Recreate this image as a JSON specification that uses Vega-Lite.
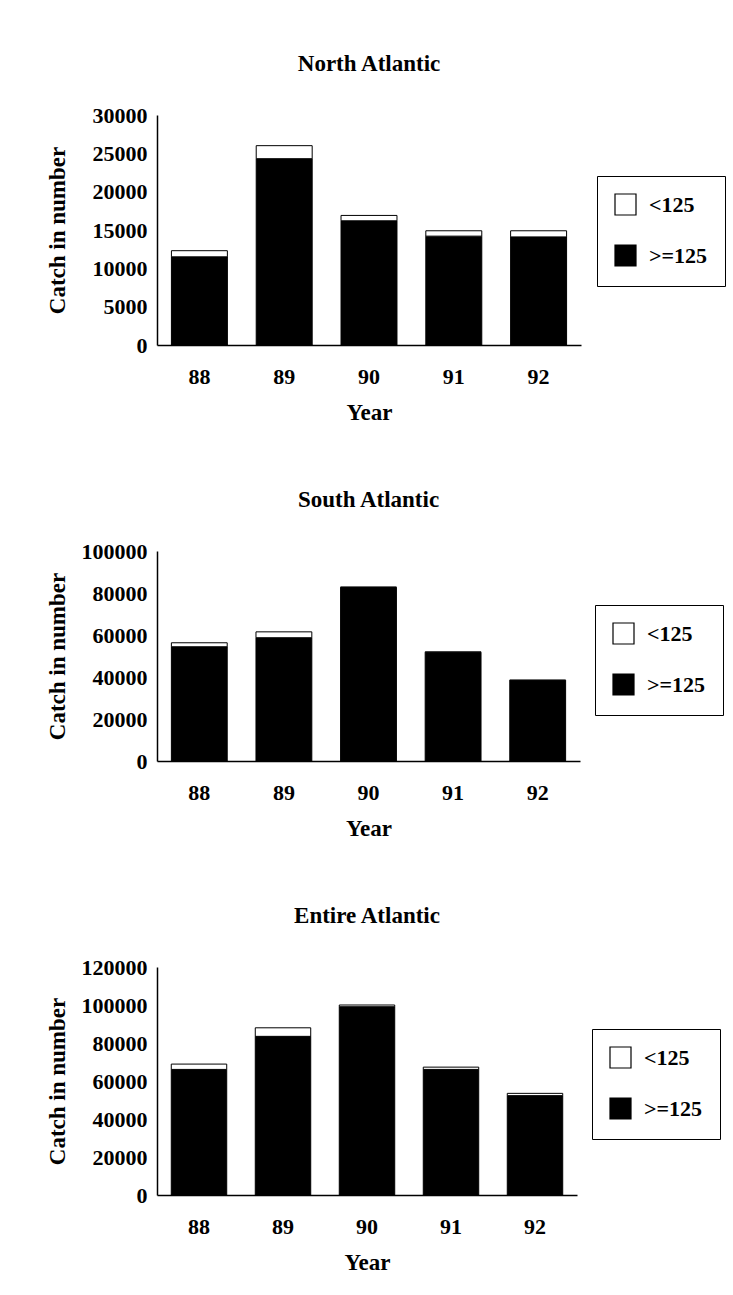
{
  "$schema": "https://vega.github.io/schema/vega-lite/v6.json",
  "padding": {"left": 46, "top": 53, "right": 5, "bottom": 5},
  "background": "white",
  "datasets": {
    "north": [
      {"year": "88", "size": ">=125", "catch": 11500},
      {"year": "88", "size": "<125", "catch": 800},
      {"year": "89", "size": ">=125", "catch": 24300},
      {"year": "89", "size": "<125", "catch": 1700},
      {"year": "90", "size": ">=125", "catch": 16200},
      {"year": "90", "size": "<125", "catch": 700},
      {"year": "91", "size": ">=125", "catch": 14200},
      {"year": "91", "size": "<125", "catch": 700},
      {"year": "92", "size": ">=125", "catch": 14100},
      {"year": "92", "size": "<125", "catch": 800}
    ],
    "south": [
      {"year": "88", "size": ">=125", "catch": 54400},
      {"year": "88", "size": "<125", "catch": 1900},
      {"year": "89", "size": ">=125", "catch": 58700},
      {"year": "89", "size": "<125", "catch": 2800},
      {"year": "90", "size": ">=125", "catch": 82600},
      {"year": "90", "size": "<125", "catch": 300},
      {"year": "91", "size": ">=125", "catch": 51700},
      {"year": "91", "size": "<125", "catch": 300},
      {"year": "92", "size": ">=125", "catch": 38300},
      {"year": "92", "size": "<125", "catch": 300}
    ],
    "entire": [
      {"year": "88", "size": ">=125", "catch": 66100},
      {"year": "88", "size": "<125", "catch": 2800},
      {"year": "89", "size": ">=125", "catch": 83500},
      {"year": "89", "size": "<125", "catch": 4500},
      {"year": "90", "size": ">=125", "catch": 99100},
      {"year": "90", "size": "<125", "catch": 900},
      {"year": "91", "size": ">=125", "catch": 66100},
      {"year": "91", "size": "<125", "catch": 1200},
      {"year": "92", "size": ">=125", "catch": 52300},
      {"year": "92", "size": "<125", "catch": 1200}
    ]
  },
  "concat": [
    {
      "title": "North Atlantic",
      "width": 424,
      "height": 230,
      "data": {"name": "north"},
      "mark": {"type": "bar", "stroke": "black", "strokeWidth": 1},
      "encoding": {
        "x": {"field": "year", "type": "ordinal", "title": "Year", "scale": {"paddingInner": 0.34, "paddingOuter": 0.17}, "axis": {"labelAngle": 0}},
        "y": {"field": "catch", "type": "quantitative", "stack": "zero", "title": "Catch in number", "scale": {"domain": [0, 30000], "nice": false}, "axis": {"values": [0, 5000, 10000, 15000, 20000, 25000, 30000], "format": "d", "titlePadding": 23}},
        "color": {"field": "size", "type": "nominal", "scale": {"domain": ["<125", ">=125"], "range": ["white", "black"]}, "legend": {"orient": "none", "legendX": 440, "legendY": 61, "title": null}},
        "order": {"field": "size", "sort": "descending"}
      }
    },
    {
      "title": "South Atlantic",
      "width": 423,
      "height": 210,
      "data": {"name": "south"},
      "mark": {"type": "bar", "stroke": "black", "strokeWidth": 1},
      "encoding": {
        "x": {"field": "year", "type": "ordinal", "title": "Year", "scale": {"paddingInner": 0.34, "paddingOuter": 0.17}, "axis": {"labelAngle": 0}},
        "y": {"field": "catch", "type": "quantitative", "stack": "zero", "title": "Catch in number", "scale": {"domain": [0, 100000], "nice": false}, "axis": {"values": [0, 20000, 40000, 60000, 80000, 100000], "format": "d", "titlePadding": 12}},
        "color": {"field": "size", "type": "nominal", "scale": {"domain": ["<125", ">=125"], "range": ["white", "black"]}, "legend": {"orient": "none", "legendX": 438, "legendY": 54, "title": null}},
        "order": {"field": "size", "sort": "descending"}
      }
    },
    {
      "title": "Entire Atlantic",
      "width": 420,
      "height": 228,
      "data": {"name": "entire"},
      "mark": {"type": "bar", "stroke": "black", "strokeWidth": 1},
      "encoding": {
        "x": {"field": "year", "type": "ordinal", "title": "Year", "scale": {"paddingInner": 0.34, "paddingOuter": 0.17}, "axis": {"labelAngle": 0}},
        "y": {"field": "catch", "type": "quantitative", "stack": "zero", "title": "Catch in number", "scale": {"domain": [0, 120000], "nice": false}, "axis": {"values": [0, 20000, 40000, 60000, 80000, 100000, 120000], "format": "d", "titlePadding": 12}},
        "color": {"field": "size", "type": "nominal", "scale": {"domain": ["<125", ">=125"], "range": ["white", "black"]}, "legend": {"orient": "none", "legendX": 435, "legendY": 62, "title": null}},
        "order": {"field": "size", "sort": "descending"}
      }
    }
  ],
  "columns": 1,
  "spacing": 65,
  "bounds": "full",
  "resolve": {"scale": {"color": "independent"}, "legend": {"color": "independent"}},
  "config": {
    "font": "Liberation Serif",
    "view": {"stroke": null},
    "title": {"font": "Liberation Serif", "fontSize": 23, "fontWeight": "bold", "color": "black", "anchor": "middle", "frame": "group", "offset": 28},
    "axis": {
      "labelFont": "Liberation Serif", "labelFontSize": 22, "labelFontWeight": "bold", "labelColor": "black",
      "titleFont": "Liberation Serif", "titleFontSize": 23, "titleFontWeight": "bold", "titleColor": "black",
      "domainColor": "black", "domainWidth": 1.5, "ticks": false, "grid": false
    },
    "axisY": {"labelPadding": 10},
    "axisX": {"labelPadding": 21, "titlePadding": 14},
    "legend": {
      "labelFont": "Liberation Serif", "labelFontSize": 22, "labelFontWeight": "bold", "labelColor": "black",
      "symbolType": "square", "symbolSize": 441, "symbolStrokeColor": "black", "symbolStrokeWidth": 1.2,
      "strokeColor": "black", "padding": 17, "rowPadding": 24, "labelOffset": 12
    }
  }
}
